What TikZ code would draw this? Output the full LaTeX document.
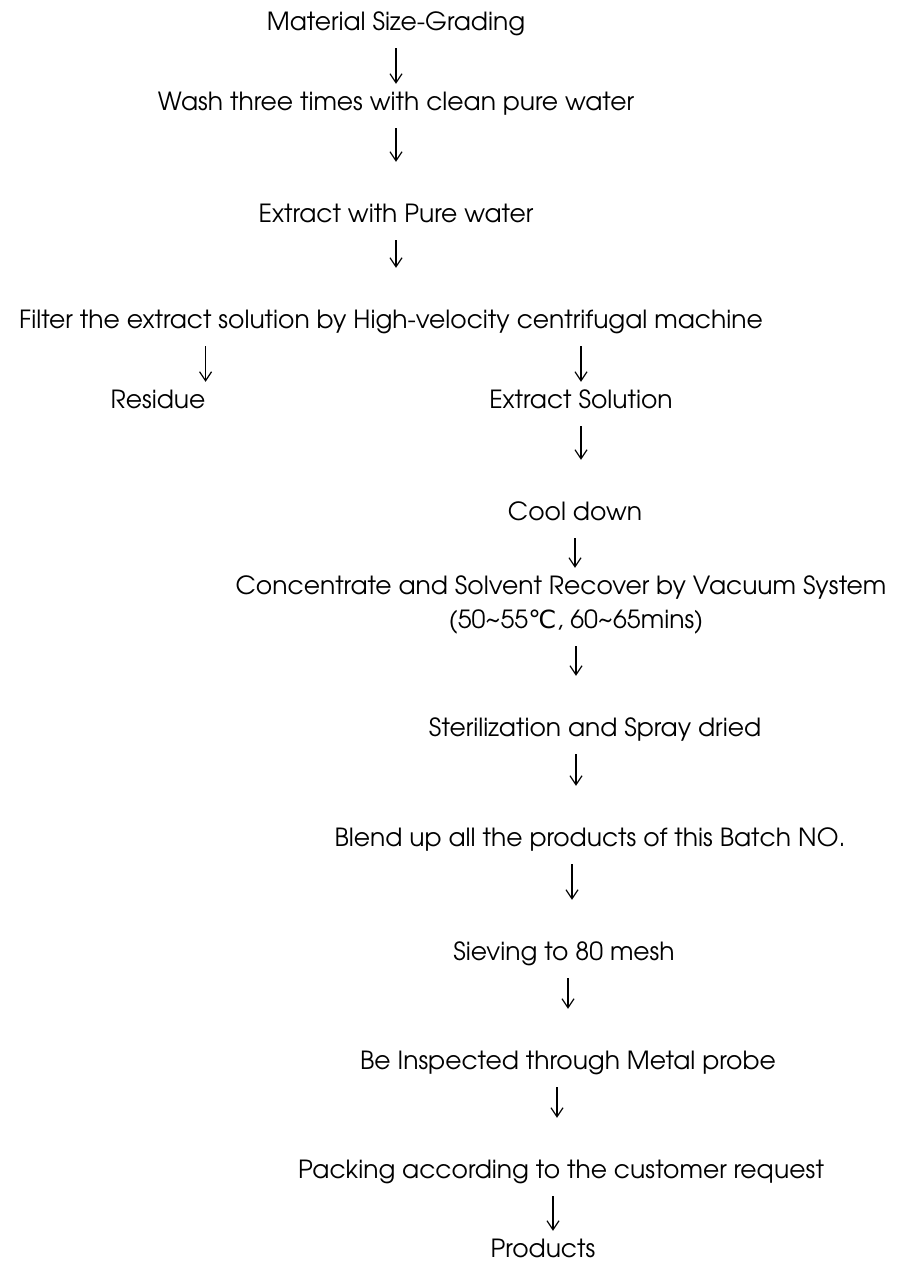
\documentclass[tikz,border=0pt]{standalone}
\usepackage{fontspec}
\setmainfont{texgyreadventor-regular.otf}
\newfontfamily\symbfont{DejaVu Sans}
\usetikzlibrary{arrows.meta}

\tikzset{
  txt/.style={inner sep=0pt, text height=18pt, text depth=5pt, anchor=base,
    font=\fontsize{25}{30}\selectfont},
  flow/.style={-{Straight Barb[length=9pt,width=12pt]}, line width=1.2pt,
    shorten <=13pt, shorten >=8pt},
  far/.style={shorten >=42pt},
}

\begin{document}
\begin{tikzpicture}[x=1pt,y=-1pt]
        \useasboundingbox (0,0) rectangle (899,1262);
        \path
            (396,30)   node[txt] (mat){Material Size-Grading}
            (396,110)  node[txt] (wash){Wash three times with clean pure water}
            (396,222)  node[txt] (extr){Extract with Pure water}
            (391,328)  node[txt] (filter){Filter the extract solution by High-velocity centrifugal machine}
            (158,408)  node[txt] (residue){Residue}
            (581,408)  node[txt] (extsol){Extract Solution}
            (575,520)  node[txt] (cool){Cool down}
            (561,594)  node[txt] (conc){Concentrate and Solvent Recover by Vacuum System}
            (576,628)  node[txt] (temp){(50\textasciitilde55{\symbfont ℃}, 60\textasciitilde65mins)}
            (595,736)  node[txt] (steril){Sterilization and Spray dried}
            (590,846)  node[txt] (blend){Blend up all the products of this Batch NO.}
            (564,960)  node[txt] (sieving){Sieving to 80 mesh}
            (568,1069) node[txt] (insp){Be Inspected through Metal probe}
            (561,1178) node[txt] (packing){Packing according to the customer request}
            (543,1257) node[txt] (products){Products};
        \begin{scope}[flow]
            \draw (mat.south) to (wash.north);
            \draw[far] (wash.south) to (extr.north);
            \draw[far] (extr.south) to (extr.south |- filter.north);
            \draw (filter.south -| residue.east) to (residue.north east);
            \draw (filter.south -| extsol) to (extsol.north);
            \draw[far] (extsol.south) to (extsol.south |- cool.north);
            \draw (cool.south) to (cool.south |- conc.north);
            \draw[far] (temp.south) to (temp.south |- steril.north);
            \draw[far] (steril.south -| temp) to (blend.north -| temp);
            \draw[far] ([xshift=-18pt]blend.south) to ([xshift=-18pt]blend.south |- sieving.north);
            \draw[far] (sieving.south -| insp) to (insp.north);
            \draw[far] ([xshift=-4pt]insp.south -| packing) to ([xshift=-4pt]packing.north);
            \draw ([xshift=-8pt]packing.south) to ([xshift=-8pt]packing.south |- products.north);
        \end{scope}
        \end{tikzpicture}
\end{document}
